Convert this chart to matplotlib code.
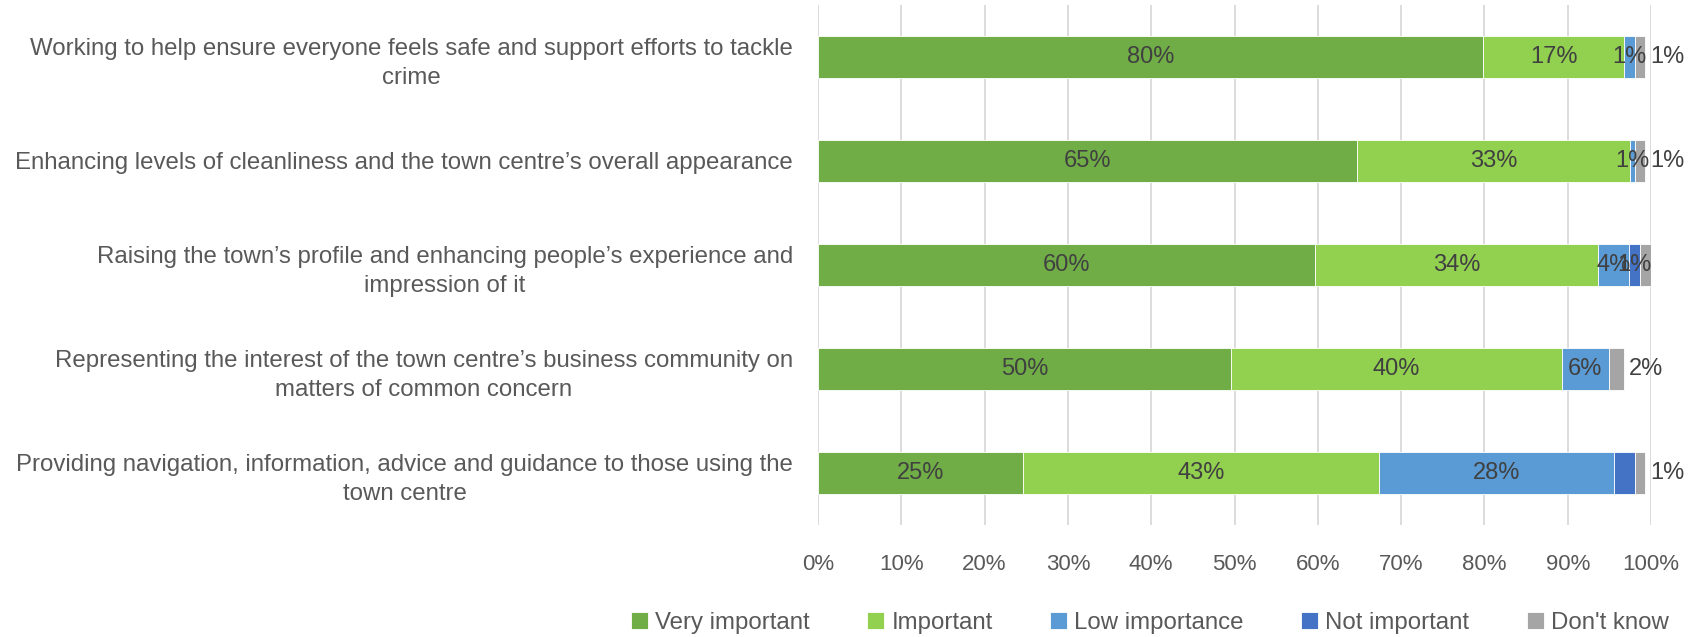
import numpy as np
import matplotlib.pyplot as plt

# Survey results: importance of each BID activity (% of respondents)
categories = [
    'Working to help ensure everyone feels safe and support efforts to tackle\ncrime',
    'Enhancing levels of cleanliness and the town centre\u2019s overall appearance',
    'Raising the town\u2019s profile and enhancing people\u2019s experience and\nimpression of it',
    'Representing the interest of the town centre\u2019s business community on\nmatters of common concern',
    'Providing navigation, information, advice and guidance to those using the\ntown centre',
]
series_names = ['Very important', 'Important', 'Low importance', 'Not important', "Don't know"]
very_important = [79.8, 64.7, 59.7, 49.6, 24.6]
important = [17.0, 32.8, 33.9, 39.7, 42.8]
low_importance = [1.3, 0.6, 3.8, 5.6, 28.2]
not_important = [0.0, 0.0, 1.3, 0.0, 2.5]
dont_know = [1.2, 1.2, 1.3, 1.9, 1.2]
x_ticks = [0, 10, 20, 30, 40, 50, 60, 70, 80, 90, 100]

# labels left off where they would collide (row, series)
hidden_labels = {(2, 4), (4, 3)}

colors = ['#70AD47', '#92D050', '#5B9BD5', '#4472C4', '#A5A5A5']
plt.rcParams['font.family'] = ['Liberation Sans', 'DejaVu Sans']

data = np.array([very_important, important, low_importance, not_important, dont_know])
y = np.arange(len(categories))

fig = plt.figure(figsize=(17, 6.37), dpi=100)
ax = fig.add_axes([818 / 1700, 1 - 525 / 637, 833 / 1700, 520 / 637])

left = np.zeros(len(categories))
for i, name in enumerate(series_names):
    vals = data[i]
    ax.barh(y, vals, left=left, height=0.4, color=colors[i], label=name,
            edgecolor='white', linewidth=0.6, zorder=2)
    for j, v in enumerate(vals):
        if v <= 0 or (j, i) in hidden_labels:
            continue
        txt = f'{v:.0f}%'
        if i == len(series_names) - 1:
            ax.text(left[j] + v + 0.6, y[j], txt, ha='left', va='center',
                    fontsize=17, color='#404040', zorder=3)
        else:
            ax.text(left[j] + v / 2, y[j], txt, ha='center', va='center',
                    fontsize=17, color='#404040', zorder=3)
    left += vals

ax.set_xlim(0, 100)
ax.set_ylim(len(categories) - 0.5, -0.5)
ax.set_xticks(x_ticks)
ax.set_xticklabels([f'{t}%' for t in x_ticks])
ax.set_yticks(y)
ax.set_yticklabels(categories, multialignment='center', linespacing=1.45)
ax.tick_params(axis='x', length=0, pad=21, labelsize=16, labelcolor='#595959')
ax.tick_params(axis='y', length=0, pad=18, labelsize=17.3, labelcolor='#595959')
for s in ax.spines.values():
    s.set_visible(False)
ax.grid(axis='x', color='#D9D9D9', linewidth=1.3, zorder=0)
ax.set_axisbelow(True)

fig.legend(loc='center', bbox_to_anchor=(1150 / 1700, 1 - 623 / 637), ncol=5,
           frameon=False, fontsize=17.3, handlelength=0.7, handleheight=0.7,
           handletextpad=0.3, columnspacing=2.4, labelcolor='#595959')

plt.savefig('out.png', dpi=100)
